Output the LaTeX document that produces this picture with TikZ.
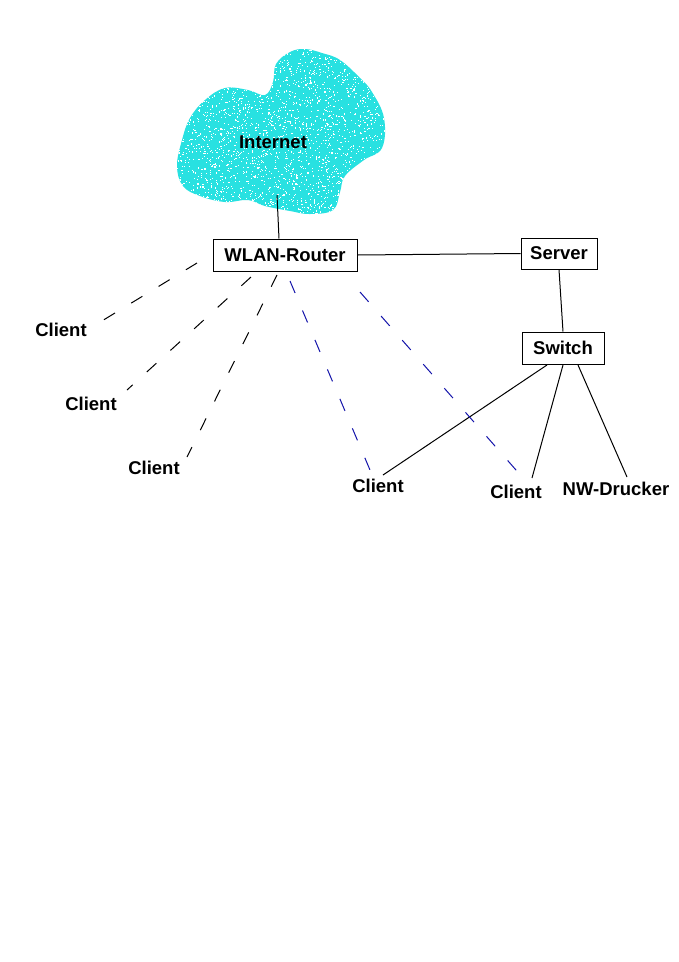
\documentclass[tikz,border=0pt]{standalone}
\usepackage{fontspec}
\setmainfont{Liberation Sans}
\begin{document}
\begin{tikzpicture}[x=1pt,y=-1pt,
  lbl/.style={font=\fontsize{18.5}{20}\selectfont\bfseries, inner sep=0pt},
  box/.style={lbl, draw, line width=1pt, minimum height=32pt},
  wire/.style={line width=1pt},
  wlanblack/.style={line width=1pt, dash pattern=on 13pt off 19pt},
  wlanblue/.style={line width=1pt, draw={rgb,255:red,20;green,20;blue,170}, dash pattern=on 13pt off 19pt}]
\useasboundingbox[fill=white] (0,0) rectangle (679,962);
\definecolor{cloudc}{RGB}{40,225,225}
\def\cloudpath{plot[smooth cycle, tension=0.65] coordinates {
  (276,64) (290,52) (305,49) (322,53) (340,60) (360,78) (372,92) (384,118)
  (382,148) (364,160) (345,176) (340,192) (333,210) (310,214) (290,211)
  (265,206) (248,200) (225,202) (200,196) (183,186) (177,166) (182,140)
  (190,118) (205,100) (225,88) (248,90) (265,95) (273,82)}}
% cloud
\path[fill=cloudc] \cloudpath;
\begin{scope}
\clip \cloudpath;
\pgfmathsetseed{7}
\foreach \i in {1,...,2600}{
  \pgfmathsetmacro{\px}{175+212*rnd}
  \pgfmathsetmacro{\py}{47+168*rnd}
  \fill[white] (\px,\py) rectangle ++(1.1,1.1);
}
\end{scope}
\node[lbl] (internet) at (273,142) {Internet};
\coordinate (cloudbot) at (277,195);
% boxes
\node[box, minimum width=144pt] (router) at (285,255) {WLAN-Router};
\node[box, minimum width=76pt, minimum height=31pt] (server) at (559,253.5) {Server};
\node[box, minimum width=82pt] (switch) at (563,348) {Switch};
% labels
\node[lbl] (c1) at (61,330) {Client};
\node[lbl] (c2) at (91,404) {Client};
\node[lbl] (c3) at (154,468) {Client};
\node[lbl] (c4) at (378,486) {Client};
\node[lbl] (c5) at (516,492) {Client};
\node[lbl] (nw) at (616,489) {NW-Drucker};
% wired
\draw[wire] (cloudbot) -- (router.north -| 279,0);
\draw[wire] (router.east) -- (server.west);
\draw[wire] (server.south) -- (switch.north);
\coordinate (s1) at (547,365);
\coordinate (s2) at (563,365);
\coordinate (s3) at (578,365);
\coordinate (e4) at (383,475);
\coordinate (e5) at (532,478);
\coordinate (e6) at (627,477);
\draw[wire] (s1) -- (e4);
\draw[wire] (s2) -- (e5);
\draw[wire] (s3) -- (e6);
% wireless
\coordinate (r1) at (197,263); \coordinate (f1) at (92,327);
\coordinate (r2) at (251,277); \coordinate (f2) at (127,390);
\coordinate (r3) at (277,275); \coordinate (f3) at (187,457);
\coordinate (r4) at (290,281); \coordinate (f4) at (370,470);
\coordinate (r5) at (360,292); \coordinate (f5) at (523,478);
\draw[wlanblack] (r1) -- (f1);
\draw[wlanblack] (r2) -- (f2);
\draw[wlanblack] (r3) -- (f3);
\draw[wlanblue] (r4) -- (f4);
\draw[wlanblue] (r5) -- (f5);
\end{tikzpicture}
\end{document}
